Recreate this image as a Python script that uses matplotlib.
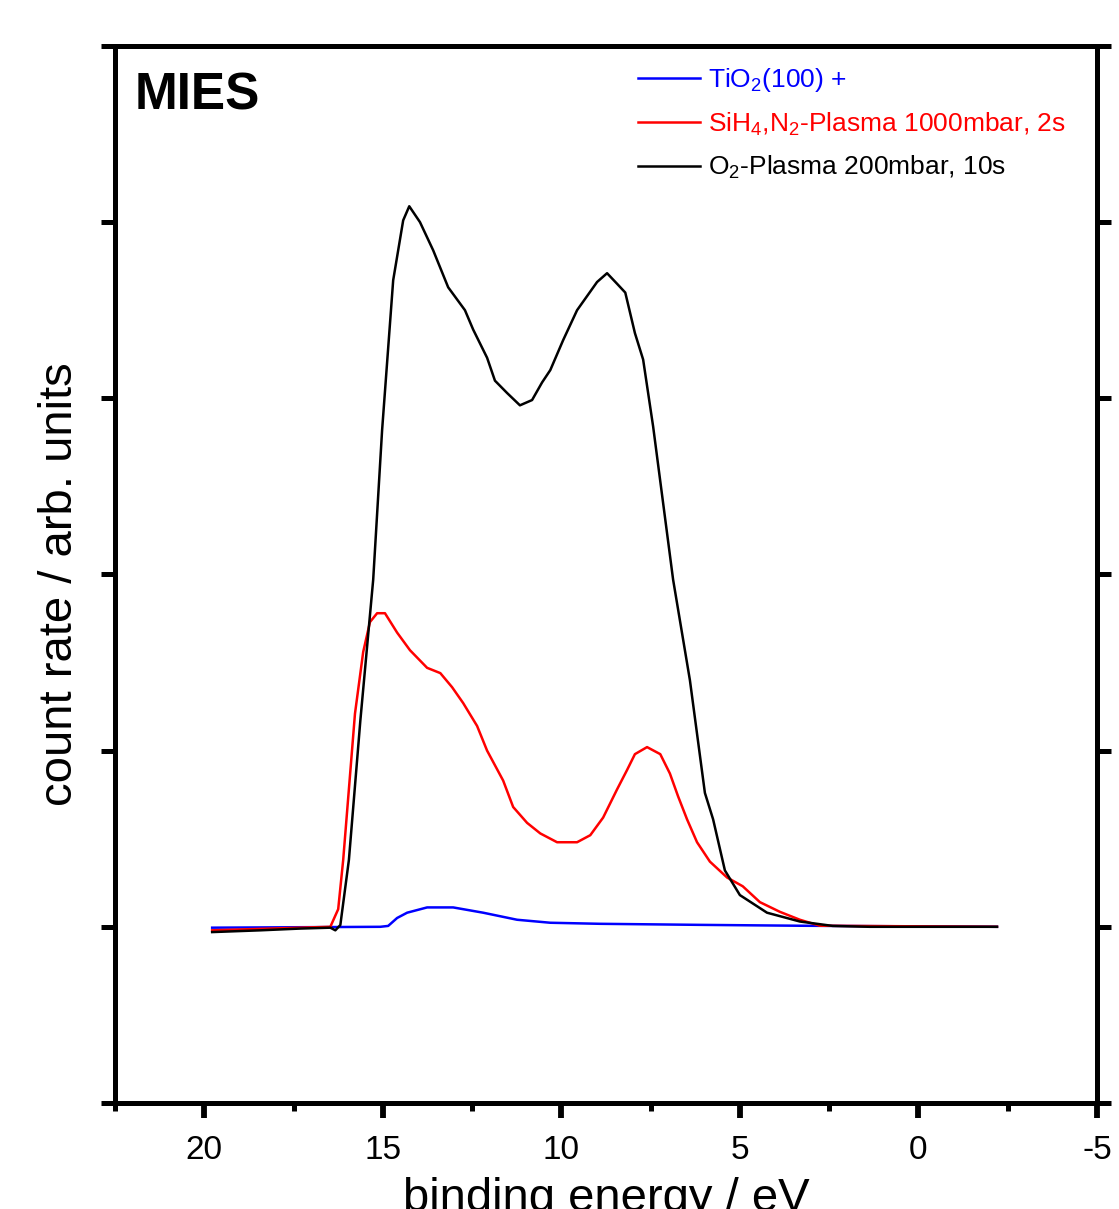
import matplotlib
matplotlib.use("Agg")
import matplotlib.pyplot as plt
from matplotlib.ticker import MultipleLocator

plt.rcParams['font.family'] = ['Liberation Sans', 'DejaVu Sans']
plt.rcParams['mathtext.fontset'] = 'custom'
plt.rcParams['mathtext.rm'] = 'Liberation Sans'
plt.rcParams['mathtext.it'] = 'Liberation Sans:italic'
plt.rcParams['mathtext.bf'] = 'Liberation Sans:bold'
plt.rcParams['axes.unicode_minus'] = False

# binding energy (eV) / count rate (arb. units)
e_tio2 = [19.78, 15.07, 14.85, 14.60, 14.32, 13.76, 13.03, 12.19, 11.24, 10.31,
          8.92, 6.12, 3.32, -2.20]
c_tio2 = [-0.005, 0.0, 0.005, 0.05, 0.08, 0.11, 0.11, 0.08, 0.04, 0.023,
          0.017, 0.011, 0.006, 0.0]

e_sin = [19.78, 17.31, 16.47, 16.25, 16.11, 15.78, 15.55, 15.36, 15.16, 14.94,
         14.60, 14.24, 13.76, 13.39, 13.06, 12.75, 12.36, 12.08, 11.63, 11.35,
         10.96, 10.59, 10.12, 9.56, 9.19, 8.83, 8.44, 8.16, 7.94, 7.60,
         7.23, 6.96, 6.73, 6.48, 6.20, 5.84, 5.36, 4.92, 4.44, 3.88,
         3.32, 2.76, -2.20]
c_sin = [-0.02, -0.005, 0.0, 0.10, 0.38, 1.21, 1.56, 1.73, 1.78, 1.78,
         1.67, 1.57, 1.47, 1.44, 1.36, 1.27, 1.14, 1.00, 0.83, 0.68,
         0.59, 0.53, 0.48, 0.48, 0.52, 0.62, 0.78, 0.89, 0.98, 1.02,
         0.98, 0.87, 0.74, 0.61, 0.48, 0.37, 0.28, 0.23, 0.14, 0.085,
         0.04, 0.006, 0.0]

e_o2 = [19.78, 18.43, 17.31, 16.47, 16.33, 16.19, 15.95, 15.63, 15.27, 15.02,
        14.71, 14.43, 14.26, 13.96, 13.59, 13.17, 12.70, 12.47, 12.08, 11.86,
        11.52, 11.16, 10.82, 10.54, 10.31, 9.95, 9.56, 9.28, 9.00, 8.72,
        8.44, 8.21, 7.94, 7.71, 7.43, 6.87, 6.40, 5.98, 5.75, 5.42,
        5.00, 4.24, 3.32, 2.40, 1.36, -2.20]
c_o2 = [-0.03, -0.02, -0.01, -0.005, -0.02, 0.01, 0.38, 1.17, 1.97, 2.82,
        3.67, 4.01, 4.09, 4.00, 3.84, 3.63, 3.50, 3.39, 3.23, 3.10,
        3.03, 2.96, 2.99, 3.09, 3.16, 3.33, 3.50, 3.58, 3.66, 3.71,
        3.65, 3.60, 3.37, 3.22, 2.84, 1.97, 1.40, 0.76, 0.61, 0.32,
        0.18, 0.08, 0.03, 0.005, 0.0, 0.0]

labels = [r'TiO$_\mathregular{2}$(100) +',
          r'SiH$_\mathregular{4}$,N$_\mathregular{2}$-Plasma 1000mbar, 2s',
          r'O$_\mathregular{2}$-Plasma 200mbar, 10s']

fig = plt.figure(figsize=(11.19, 12.09), dpi=100)
ax = fig.add_axes([0.1028, 0.0877, 0.8775, 0.8743])

ax.plot(e_tio2, c_tio2, color='#0000ff', lw=1.8, label=labels[0])
ax.plot(e_sin, c_sin, color='#ff0000', lw=1.8, label=labels[1])
ax.plot(e_o2, c_o2, color='black', lw=1.8, label=labels[2])

ax.set_xlim(22.5, -5)
ax.set_ylim(-1, 5)
ax.xaxis.set_major_locator(MultipleLocator(5))
ax.xaxis.set_minor_locator(MultipleLocator(2.5))
ax.yaxis.set_major_locator(MultipleLocator(1))

for s in ax.spines.values():
    s.set_linewidth(3.6)

ax.tick_params(axis='x', which='major', direction='out', length=11, width=4.2,
               labelsize=24, pad=12)
ax.tick_params(axis='x', which='minor', direction='out', length=6, width=3.6)
ax.tick_params(axis='y', which='major', direction='out', length=10, width=3.6,
               left=True, right=True, labelleft=False)

ax.set_xlabel('binding energy / eV', fontsize=34, labelpad=8)
ax.set_ylabel('count rate / arb. units', fontsize=34)
ax.yaxis.set_label_coords(-0.034, 0.491)

ax.text(0.02, 0.9755, 'MIES', transform=ax.transAxes, fontsize=37,
        fontweight='bold', va='top', ha='left')

leg = ax.legend(loc='upper left', bbox_to_anchor=(0.5326, 0.981), frameon=False,
                fontsize=19, handlelength=2.35, handletextpad=0.3,
                labelspacing=0.62, borderpad=0, borderaxespad=0,
                labelcolor='linecolor')

fig.savefig('out.png', dpi=100)
